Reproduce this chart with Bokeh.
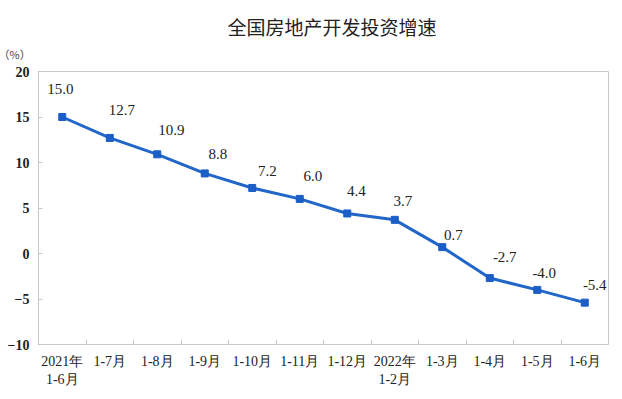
from bokeh.plotting import figure
from bokeh.models import Range1d, FixedTicker, ColumnDataSource, LabelSet, Title
from bokeh.embed import file_html
from bokeh.resources import INLINE

# ---- data ----
categories = ["2021年\n1-6月", "1-7月", "1-8月", "1-9月", "1-10月", "1-11月", "1-12月",
              "2022年\n1-2月", "1-3月", "1-4月", "1-5月", "1-6月"]
growth = [15.0, 12.7, 10.9, 8.8, 7.2, 6.0, 4.4, 3.7, 0.7, -2.7, -4.0, -5.4]
y_ticks = [-10, -5, 0, 5, 10, 15, 20]
title_text = "全国房地产开发投资增速"
unit_text = "（%）"

# ---- label placement (pixels, style only) ----
label_dx = [-2, 12, 14, 13, 15, 13, 9, 8, 11, 15, 7, 10]
label_dy = [28, 28, 24, 19, 17, 23, 22, 19, 12, 21, 17, 18]

SERIF = "Liberation Serif"
BLUE = "#2166c8"
TXT = "#222222"
GRAY = "#c8c8c8"

xs = [i + 0.5 for i in range(len(categories))]
src = ColumnDataSource(dict(
    x=xs, y=growth, lab=[f"{v:.1f}" for v in growth], dx=label_dx, dy=label_dy))

p = figure(width=614, height=391,
           output_backend="svg", toolbar_location=None,
           x_range=Range1d(0, len(categories)), y_range=Range1d(y_ticks[0], y_ticks[-1]),
           min_border_left=38, min_border_right=6, min_border_top=71, min_border_bottom=47)

p.background_fill_color = "white"
p.border_fill_color = "white"
p.outline_line_color = GRAY
p.outline_line_width = 1
p.grid.visible = False

# titles
p.title.text = title_text
p.title.align = "left"
p.title.offset = 189
p.title.text_font = "Noto Sans CJK SC"
p.title.text_font_size = "19px"
p.title.text_font_style = "normal"
p.title.text_color = "#222222"
p.title.standoff = -10

p.add_layout(Title(text=unit_text, align="left", offset=-40, standoff=19,
                   text_font="Noto Sans CJK SC", text_font_size="11px",
                   text_font_style="normal", text_color="#444444"), "above")

p.line("x", "y", source=src, line_color=BLUE, line_width=3)
p.scatter("x", "y", source=src, marker="square", size=7, fill_color="#1a5ec6",
          line_color="#1a5ec6")

labels = LabelSet(x="x", y="y", text="lab", source=src, x_offset="dx", y_offset="dy",
                  text_align="center", text_baseline="middle",
                  text_font=SERIF, text_font_size="15px", text_color=TXT)
p.add_layout(labels)

# x axis
xa = p.xaxis[0]
xa.ticker = FixedTicker(ticks=xs, minor_ticks=list(range(1, len(categories))))
xa.major_label_overrides = {x: c for x, c in zip(xs, categories)}
xa.major_tick_line_color = None
xa.minor_tick_in = 5
xa.minor_tick_out = 0
xa.minor_tick_line_color = GRAY
xa.axis_line_color = GRAY
xa.major_label_text_font = SERIF
xa.major_label_text_font_size = "14px"
xa.major_label_text_color = TXT
xa.major_label_standoff = 3

# y axis
ya = p.yaxis[0]
ya.ticker = FixedTicker(ticks=y_ticks, minor_ticks=[])
ya.major_tick_in = 4
ya.major_tick_out = 0
ya.major_tick_line_color = GRAY
ya.axis_line_color = GRAY
ya.major_label_text_font = SERIF
ya.major_label_text_font_style = "bold"
ya.major_label_text_font_size = "14px"
ya.major_label_text_color = TXT
ya.major_label_standoff = 9

open("out.html", "w").write(file_html(p, INLINE))
